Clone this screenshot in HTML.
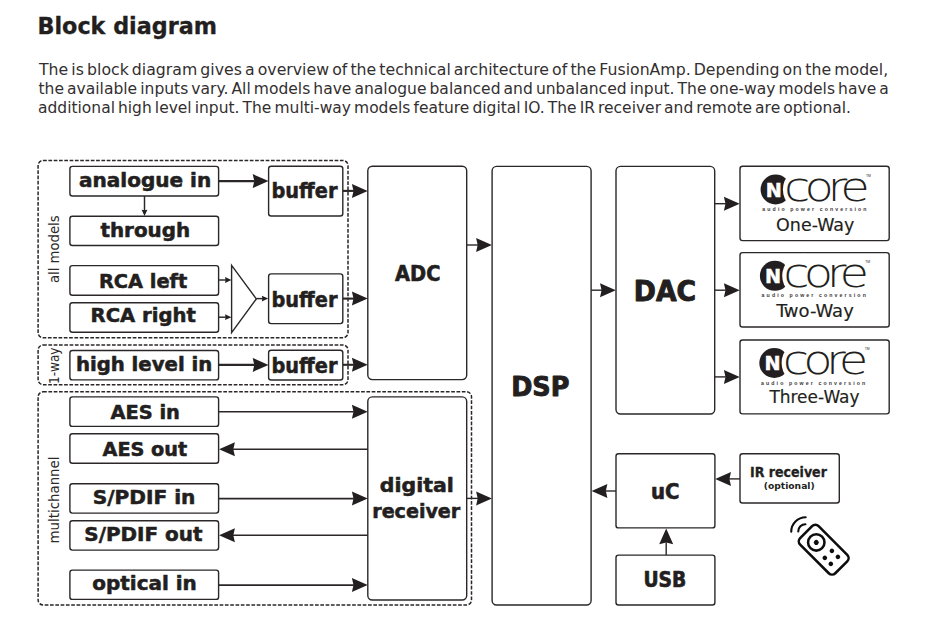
<!DOCTYPE html>
<html lang="en">
<head>
<meta charset="utf-8">
<title>Block diagram</title>
<style>
  html, body { margin: 0; padding: 0; background: #fff; }
  body { width: 931px; height: 639px; overflow: hidden; position: relative;
         font-family: "Liberation Sans", sans-serif; color: #231f20; }
  h1 { position: absolute; left: 0; top: 0; margin: 0; font-family: "DejaVu Sans Condensed", "DejaVu Sans", "Liberation Sans", sans-serif;
        font-size: 23px; line-height: 30px; font-weight: bold; white-space: nowrap;
        transform-origin: 0 0; transform: translate(37.5px, 10.5px) scaleX(1.0765); -webkit-text-stroke: 0.3px #231f20; }
  p.intro { position: absolute; left: 0; top: 0; margin: 0; font-family: "DejaVu Sans", "Liberation Sans", sans-serif;
        font-size: 15.9px; line-height: 19px; white-space: nowrap; color: #332f30; word-spacing: -1.9px; }
  p.intro span { display: block; position: absolute; left: 0; transform-origin: 0 0; }
  p.intro .l1 { top: 0; transform: translate(39.0px, 60.0px) scaleX(0.9894); }
  p.intro .l2 { top: 0; transform: translate(38.5px, 79.0px) scaleX(0.9773); }
  p.intro .l3 { top: 0; transform: translate(38.0px, 97.75px) scaleX(0.9748); }
  svg { position: absolute; left: 0; top: 0; }
  svg text { font-family: "DejaVu Sans Condensed", "DejaVu Sans", "Liberation Sans", sans-serif; }
  svg text.lt { font-family: "DejaVu Sans", "Liberation Sans", sans-serif; font-weight: 200; }
  svg text.nb { font-family: "DejaVu Sans", "Liberation Sans", sans-serif; }
  svg text.lb { font-family: "Liberation Sans", sans-serif; }
</style>
</head>
<body>
<h1>Block diagram</h1>
<p class="intro">
<span class="l1">The is block diagram gives a overview of the technical architecture of the FusionAmp. Depending on the model,</span>
<span class="l2">the available inputs vary. All models have analogue balanced and unbalanced input. The one-way models have a</span>
<span class="l3">additional high level input. The multi-way models feature digital IO. The IR receiver and remote are optional.</span>
</p>
<svg width="931" height="639" viewBox="0 0 931 639" role="img" aria-label="FusionAmp block diagram">
<rect x="38.1" y="160.5" width="309.9" height="177.2" rx="5" ry="5" fill="none" stroke="#2b2728" stroke-width="1.5" stroke-dasharray="3.7 1.6"/>
<rect x="38.1" y="345.0" width="309.9" height="39.7" rx="5" ry="5" fill="none" stroke="#2b2728" stroke-width="1.5" stroke-dasharray="3.7 1.6"/>
<rect x="38.1" y="391.8" width="433.4" height="213.2" rx="5" ry="5" fill="none" stroke="#2b2728" stroke-width="1.5" stroke-dasharray="3.7 1.6"/>
<rect x="69.9" y="166.4" width="148.7" height="29.6" rx="2.5" ry="2.5" fill="none" stroke="#2b2728" stroke-width="1.4"/>
<text x="145.08" y="186.7" font-size="19.3" font-weight="bold" text-anchor="middle" fill="#231f20" stroke="#231f20" stroke-width="0.5" stroke-linejoin="round" textLength="132.15" lengthAdjust="spacingAndGlyphs">analogue in</text>
<rect x="69.9" y="216.2" width="148.7" height="29.3" rx="2.5" ry="2.5" fill="none" stroke="#2b2728" stroke-width="1.4"/>
<text x="145.28" y="236.75" font-size="19.5" font-weight="bold" text-anchor="middle" fill="#231f20" stroke="#231f20" stroke-width="0.5" stroke-linejoin="round" textLength="89.75" lengthAdjust="spacingAndGlyphs">through</text>
<rect x="69.9" y="265.6" width="148.7" height="29.6" rx="2.5" ry="2.5" fill="none" stroke="#2b2728" stroke-width="1.4"/>
<text x="143.13" y="287.55" font-size="19.8" font-weight="bold" text-anchor="middle" fill="#231f20" stroke="#231f20" stroke-width="0.5" stroke-linejoin="round" textLength="88.35" lengthAdjust="spacingAndGlyphs">RCA left</text>
<rect x="69.9" y="302.7" width="148.7" height="29.5" rx="2.5" ry="2.5" fill="none" stroke="#2b2728" stroke-width="1.4"/>
<text x="143.25" y="322.15" font-size="19.8" font-weight="bold" text-anchor="middle" fill="#231f20" stroke="#231f20" stroke-width="0.5" stroke-linejoin="round" textLength="105.3" lengthAdjust="spacingAndGlyphs">RCA right</text>
<rect x="69.9" y="350.5" width="148.7" height="29.4" rx="2.5" ry="2.5" fill="none" stroke="#2b2728" stroke-width="1.4"/>
<text x="144.07" y="370.65" font-size="19.5" font-weight="bold" text-anchor="middle" fill="#231f20" stroke="#231f20" stroke-width="0.5" stroke-linejoin="round" textLength="136.35" lengthAdjust="spacingAndGlyphs">high level in</text>
<rect x="69.9" y="396.9" width="148.7" height="29.5" rx="2.5" ry="2.5" fill="none" stroke="#2b2728" stroke-width="1.4"/>
<text x="145.22" y="418.7" font-size="19.8" font-weight="bold" text-anchor="middle" fill="#231f20" stroke="#231f20" stroke-width="0.5" stroke-linejoin="round" textLength="69.45" lengthAdjust="spacingAndGlyphs">AES in</text>
<rect x="69.9" y="433.8" width="148.7" height="29.5" rx="2.5" ry="2.5" fill="none" stroke="#2b2728" stroke-width="1.4"/>
<text x="144.88" y="455.75" font-size="19.8" font-weight="bold" text-anchor="middle" fill="#231f20" stroke="#231f20" stroke-width="0.5" stroke-linejoin="round" textLength="84.75" lengthAdjust="spacingAndGlyphs">AES out</text>
<rect x="69.9" y="483.7" width="148.7" height="29.4" rx="2.5" ry="2.5" fill="none" stroke="#2b2728" stroke-width="1.4"/>
<text x="144.05" y="504.45" font-size="19.8" font-weight="bold" text-anchor="middle" fill="#231f20" stroke="#231f20" stroke-width="0.5" stroke-linejoin="round" textLength="102.8" lengthAdjust="spacingAndGlyphs">S/PDIF in</text>
<rect x="69.9" y="520.7" width="148.7" height="29.4" rx="2.5" ry="2.5" fill="none" stroke="#2b2728" stroke-width="1.4"/>
<text x="143.43" y="541.35" font-size="19.8" font-weight="bold" text-anchor="middle" fill="#231f20" stroke="#231f20" stroke-width="0.5" stroke-linejoin="round" textLength="118.15" lengthAdjust="spacingAndGlyphs">S/PDIF out</text>
<rect x="69.9" y="570.1" width="148.7" height="29.3" rx="2.5" ry="2.5" fill="none" stroke="#2b2728" stroke-width="1.4"/>
<text x="144.57" y="590.45" font-size="19.5" font-weight="bold" text-anchor="middle" fill="#231f20" stroke="#231f20" stroke-width="0.5" stroke-linejoin="round" textLength="104.55" lengthAdjust="spacingAndGlyphs">optical in</text>
<rect x="268.6" y="166.3" width="74.2" height="49.7" rx="2.5" ry="2.5" fill="none" stroke="#2b2728" stroke-width="1.4"/>
<text x="304.47" y="198.45" font-size="21.3" font-weight="bold" text-anchor="middle" fill="#231f20" stroke="#231f20" stroke-width="0.5" stroke-linejoin="round" textLength="65.95" lengthAdjust="spacingAndGlyphs">buffer</text>
<rect x="268.6" y="273.9" width="74.2" height="49.7" rx="2.5" ry="2.5" fill="none" stroke="#2b2728" stroke-width="1.4"/>
<text x="304.47" y="306.65" font-size="21.3" font-weight="bold" text-anchor="middle" fill="#231f20" stroke="#231f20" stroke-width="0.5" stroke-linejoin="round" textLength="65.95" lengthAdjust="spacingAndGlyphs">buffer</text>
<rect x="268.6" y="350.3" width="74.2" height="29.7" rx="2.5" ry="2.5" fill="none" stroke="#2b2728" stroke-width="1.4"/>
<text x="304.47" y="372.55" font-size="21.3" font-weight="bold" text-anchor="middle" fill="#231f20" stroke="#231f20" stroke-width="0.5" stroke-linejoin="round" textLength="65.95" lengthAdjust="spacingAndGlyphs">buffer</text>
<path d="M231.6 265.3L256.3 298.9L231.6 332.7Z" fill="none" stroke="#2b2728" stroke-width="1.4" stroke-linejoin="miter"/>
<rect x="367.8" y="166.2" width="98.9" height="213.4" rx="4.5" ry="4.5" fill="none" stroke="#2b2728" stroke-width="1.4"/>
<text x="417.77" y="280.7" font-size="20.5" font-weight="bold" text-anchor="middle" fill="#231f20" stroke="#231f20" stroke-width="0.6" stroke-linejoin="round" textLength="45.35" lengthAdjust="spacingAndGlyphs">ADC</text>
<rect x="367.8" y="396.9" width="98.9" height="203.1" rx="4.5" ry="4.5" fill="none" stroke="#2b2728" stroke-width="1.4"/>
<text x="416.8" y="492.45" font-size="19.8" font-weight="bold" text-anchor="middle" fill="#231f20" stroke="#231f20" stroke-width="0.5" stroke-linejoin="round" textLength="73.9" lengthAdjust="spacingAndGlyphs">digital</text>
<text x="416.25" y="518.25" font-size="19.8" font-weight="bold" text-anchor="middle" fill="#231f20" stroke="#231f20" stroke-width="0.5" stroke-linejoin="round" textLength="88.0" lengthAdjust="spacingAndGlyphs">receiver</text>
<rect x="492.1" y="166.4" width="99.0" height="438.6" rx="4.5" ry="4.5" fill="none" stroke="#2b2728" stroke-width="1.4"/>
<text x="540.3" y="395.7" font-size="27.4" font-weight="bold" text-anchor="middle" fill="#231f20" stroke="#231f20" stroke-width="0.9" stroke-linejoin="round" textLength="58.2" lengthAdjust="spacingAndGlyphs">DSP</text>
<rect x="616.0" y="166.4" width="98.7" height="247.6" rx="4.5" ry="4.5" fill="none" stroke="#2b2728" stroke-width="1.4"/>
<text x="664.92" y="300.65" font-size="27.8" font-weight="bold" text-anchor="middle" fill="#231f20" stroke="#231f20" stroke-width="0.9" stroke-linejoin="round" textLength="62.25" lengthAdjust="spacingAndGlyphs">DAC</text>
<rect x="616" y="453.7" width="98.9" height="74.2" rx="2.5" ry="2.5" fill="none" stroke="#2b2728" stroke-width="1.4"/>
<text x="665.3" y="498.9" font-size="20.5" font-weight="bold" text-anchor="middle" fill="#231f20" stroke="#231f20" stroke-width="0.6" stroke-linejoin="round" textLength="28.5" lengthAdjust="spacingAndGlyphs">uC</text>
<rect x="616" y="555.1" width="98.9" height="49.9" rx="2.5" ry="2.5" fill="none" stroke="#2b2728" stroke-width="1.4"/>
<text x="664.8" y="587.1" font-size="20.5" font-weight="bold" text-anchor="middle" fill="#231f20" stroke="#231f20" stroke-width="0.6" stroke-linejoin="round" textLength="42.8" lengthAdjust="spacingAndGlyphs">USB</text>
<rect x="740.0" y="453.7" width="99.3" height="49.3" rx="2.5" ry="2.5" fill="none" stroke="#2b2728" stroke-width="1.4"/>
<text x="788.45" y="476.85" font-size="14.3" font-weight="bold" text-anchor="middle" fill="#231f20" stroke="#231f20" stroke-width="0.3" stroke-linejoin="round" textLength="76.9" lengthAdjust="spacingAndGlyphs">IR receiver</text>
<text x="789.2" y="488.9" font-size="9.5" font-weight="bold" text-anchor="middle" fill="#231f20" textLength="50.9" lengthAdjust="spacingAndGlyphs">(optional)</text>
<rect x="740.0" y="166.3" width="149.2" height="74.3" rx="2.6" ry="2.6" fill="none" stroke="#2b2728" stroke-width="1.4"/>
<g transform="translate(0.0 0.0)"><circle cx="775.6" cy="189.5" r="15" fill="#231f20"/><circle cx="804.9" cy="189.5" r="22" fill="#fff"/><text class="nb" x="773.8" y="196.6" font-size="19.2" font-weight="bold" text-anchor="middle" fill="#fff" stroke="#fff" stroke-width="0.5">N</text><text class="lt" transform="translate(784.04 200.6) scale(1.2 1)" x="0" y="0" dx="0 -4.94 -5.38 -4.96" font-size="40" fill="#231f20">core</text><text class="lb" x="866" y="176.6" font-size="3.4" fill="#231f20">TM</text><text class="lb" x="762.3" y="211.0" font-size="5.2" font-weight="bold" fill="#3a3637" textLength="104.2" lengthAdjust="spacing">audio power conversion</text></g>
<text x="815.2" y="230.53" font-size="16.8" font-weight="normal" text-anchor="middle" fill="#231f20" stroke="#231f20" stroke-width="0.15" stroke-linejoin="round" textLength="78.2" lengthAdjust="spacingAndGlyphs">One-Way</text>
<rect x="740.0" y="252.6" width="149.2" height="74.4" rx="2.6" ry="2.6" fill="none" stroke="#2b2728" stroke-width="1.4"/>
<g transform="translate(-0.7 86.3)"><circle cx="775.6" cy="189.5" r="15" fill="#231f20"/><circle cx="804.9" cy="189.5" r="22" fill="#fff"/><text class="nb" x="773.8" y="196.6" font-size="19.2" font-weight="bold" text-anchor="middle" fill="#fff" stroke="#fff" stroke-width="0.5">N</text><text class="lt" transform="translate(784.04 200.6) scale(1.2 1)" x="0" y="0" dx="0 -4.94 -5.38 -4.96" font-size="40" fill="#231f20">core</text><text class="lb" x="866" y="176.6" font-size="3.4" fill="#231f20">TM</text><text class="lb" x="762.3" y="211.0" font-size="5.2" font-weight="bold" fill="#3a3637" textLength="104.2" lengthAdjust="spacing">audio power conversion</text></g>
<text x="815.0" y="316.82" font-size="16.8" font-weight="normal" text-anchor="middle" fill="#231f20" stroke="#231f20" stroke-width="0.15" stroke-linejoin="round" textLength="77.6" lengthAdjust="spacingAndGlyphs">Two-Way</text>
<rect x="740.0" y="340.0" width="149.2" height="73.9" rx="2.6" ry="2.6" fill="none" stroke="#2b2728" stroke-width="1.4"/>
<g transform="translate(-1.3 173.5)"><circle cx="775.6" cy="189.5" r="15" fill="#231f20"/><circle cx="804.9" cy="189.5" r="22" fill="#fff"/><text class="nb" x="773.8" y="196.6" font-size="19.2" font-weight="bold" text-anchor="middle" fill="#fff" stroke="#fff" stroke-width="0.5">N</text><text class="lt" transform="translate(784.04 200.6) scale(1.2 1)" x="0" y="0" dx="0 -4.94 -5.38 -4.96" font-size="40" fill="#231f20">core</text><text class="lb" x="866" y="176.6" font-size="3.4" fill="#231f20">TM</text><text class="lb" x="762.3" y="211.0" font-size="5.2" font-weight="bold" fill="#3a3637" textLength="104.2" lengthAdjust="spacing">audio power conversion</text></g>
<text x="814.43" y="403.43" font-size="16.8" font-weight="normal" text-anchor="middle" fill="#231f20" stroke="#231f20" stroke-width="0.15" stroke-linejoin="round" textLength="90.05" lengthAdjust="spacingAndGlyphs">Three-Way</text>
<path d="M218.6 181.1H254.7" stroke="#2b2728" stroke-width="2.3" fill="none"/><path d="M268.5 181.1L252.7 174.1L254.28 181.1L252.7 188.1Z" fill="#231f20"/>
<path d="M343.0 190.9H353.9" stroke="#2b2728" stroke-width="2.1" fill="none"/><path d="M367.7 190.9L351.9 183.9L353.48 190.9L351.9 197.9Z" fill="#231f20"/>
<path d="M343.0 298.6H353.9" stroke="#2b2728" stroke-width="2.1" fill="none"/><path d="M367.7 298.6L351.9 291.6L353.48 298.6L351.9 305.6Z" fill="#231f20"/>
<path d="M218.6 364.9H254.7" stroke="#2b2728" stroke-width="2.3" fill="none"/><path d="M268.5 364.9L252.7 357.9L254.28 364.9L252.7 371.9Z" fill="#231f20"/>
<path d="M343.0 364.8H353.9" stroke="#2b2728" stroke-width="2.1" fill="none"/><path d="M367.7 364.8L351.9 357.8L353.48 364.8L351.9 371.8Z" fill="#231f20"/>
<path d="M219 411.8H353.9" stroke="#2b2728" stroke-width="1.6" fill="none"/><path d="M367.7 411.8L351.9 404.8L353.48 411.8L351.9 418.8Z" fill="#231f20"/>
<path d="M367.7 449.2H232.9" stroke="#2b2728" stroke-width="1.6" fill="none"/><path d="M219.1 449.2L234.9 442.2L233.32 449.2L234.9 456.2Z" fill="#231f20"/>
<path d="M219 498.6H353.9" stroke="#2b2728" stroke-width="1.6" fill="none"/><path d="M367.7 498.6L351.9 491.6L353.48 498.6L351.9 505.6Z" fill="#231f20"/>
<path d="M367.7 535.2H232.9" stroke="#2b2728" stroke-width="1.6" fill="none"/><path d="M219.1 535.2L234.9 528.2L233.32 535.2L234.9 542.2Z" fill="#231f20"/>
<path d="M219 585.1H353.9" stroke="#2b2728" stroke-width="1.6" fill="none"/><path d="M367.7 585.1L351.9 578.1L353.48 585.1L351.9 592.1Z" fill="#231f20"/>
<path d="M466.7 245.0H478.1" stroke="#2b2728" stroke-width="1.4" fill="none"/><path d="M491.9 245.0L476.1 238.0L477.68 245.0L476.1 252.0Z" fill="#231f20"/>
<path d="M466.7 498.4H478.1" stroke="#2b2728" stroke-width="1.4" fill="none"/><path d="M491.9 498.4L476.1 491.4L477.68 498.4L476.1 505.4Z" fill="#231f20"/>
<path d="M591.1 290.2H602.0" stroke="#2b2728" stroke-width="1.4" fill="none"/><path d="M615.8 290.2L600.0 283.2L601.58 290.2L600.0 297.2Z" fill="#231f20"/>
<path d="M714.8 203.7H725.9" stroke="#2b2728" stroke-width="1.4" fill="none"/><path d="M739.7 203.7L723.9 196.7L725.48 203.7L723.9 210.7Z" fill="#231f20"/>
<path d="M714.8 290.2H725.9" stroke="#2b2728" stroke-width="1.4" fill="none"/><path d="M739.7 290.2L723.9 283.2L725.48 290.2L723.9 297.2Z" fill="#231f20"/>
<path d="M714.8 376.9H725.9" stroke="#2b2728" stroke-width="1.4" fill="none"/><path d="M739.7 376.9L723.9 369.9L725.48 376.9L723.9 383.9Z" fill="#231f20"/>
<path d="M616 491H605.4" stroke="#2b2728" stroke-width="1.4" fill="none"/><path d="M591.6 491L607.4 484.0L605.82 491L607.4 498.0Z" fill="#231f20"/>
<path d="M740 478.9H729.0" stroke="#2b2728" stroke-width="1.4" fill="none"/><path d="M715.2 478.9L731.0 471.9L729.42 478.9L731.0 485.9Z" fill="#231f20"/>
<path d="M666.2 555.1V542.2" stroke="#2b2728" stroke-width="1.4" fill="none"/><path d="M666.2 528.4L659.2 544.2L666.2 542.62L673.2 544.2Z" fill="#231f20"/>
<path d="M219 280H227.0" stroke="#2b2728" stroke-width="1.45" fill="none"/><path d="M231.4 280L225.0 277.1L225.64 280L225.0 282.9Z" fill="#231f20"/>
<path d="M219 317.2H227.0" stroke="#2b2728" stroke-width="1.45" fill="none"/><path d="M231.4 317.2L225.0 314.3L225.64 317.2L225.0 320.1Z" fill="#231f20"/>
<path d="M256.3 298.6H263.8" stroke="#2b2728" stroke-width="1.45" fill="none"/><path d="M268.2 298.6L261.8 295.7L262.44 298.6L261.8 301.5Z" fill="#231f20"/>
<path d="M144.5 196V211.7" stroke="#2b2728" stroke-width="1.45" fill="none"/><path d="M144.5 216.1L141.6 209.7L144.5 210.34L147.4 209.7Z" fill="#231f20"/>
<text transform="translate(59 249.2) rotate(-90)" font-size="14.5" text-anchor="middle" fill="#2e2a2b" textLength="67.6" lengthAdjust="spacingAndGlyphs">all models</text>
<text transform="translate(59 365.8) rotate(-90)" font-size="14.5" text-anchor="middle" fill="#2e2a2b" textLength="36.5" lengthAdjust="spacingAndGlyphs">1-way</text>
<text transform="translate(59 500) rotate(-90)" font-size="14.5" text-anchor="middle" fill="#2e2a2b" textLength="87" lengthAdjust="spacingAndGlyphs">multichannel</text>
<g transform="translate(823.7 549.7) rotate(-45)" fill="none" stroke="#0d0d0d" stroke-width="2.55" stroke-linecap="round"><rect x="-13.05" y="-24.85" width="26.1" height="49.7" rx="4.6"/><circle cx="-0.1" cy="-10.4" r="8.2"/><circle cx="-0.1" cy="-10.4" r="2.5" fill="#0d0d0d" stroke="none"/><circle cx="-5" cy="6.6" r="2.3" fill="#0d0d0d" stroke="none"/><circle cx="5" cy="6.6" r="2.3" fill="#0d0d0d" stroke="none"/><circle cx="-5" cy="15.1" r="2.3" fill="#0d0d0d" stroke="none"/><circle cx="5" cy="15.1" r="2.3" fill="#0d0d0d" stroke="none"/><path d="M-5.1 -30.9A7.2 7.2 0 0 1 5.1 -30.9" stroke-width="2.1"/><path d="M-10.2 -35.7A14.4 14.4 0 0 1 10.2 -35.7" stroke-width="2.1"/></g>
</svg>
</body>
</html>
